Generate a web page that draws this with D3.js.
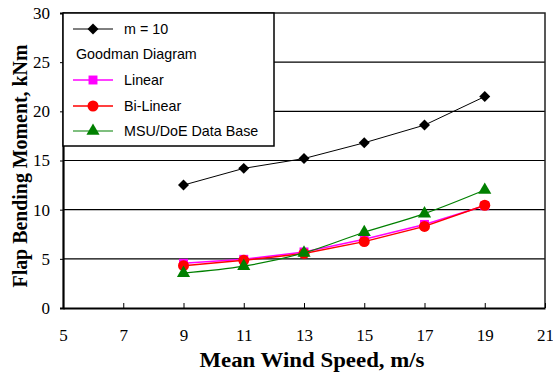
<!DOCTYPE html>
<html>
<head>
<meta charset="utf-8">
<script src="https://cdn.jsdelivr.net/npm/d3@7"></script>
<style>
  body { margin: 0; background: #fff; }
  svg { display: block; }
</style>
</head>
<body>
<div id="chart"></div>
<script>
// wind speeds, m/s
const windSpeeds = [9, 11, 13, 15, 17, 19];

// flap bending moment, kNm
const m10 = [12.5, 14.2, 15.2, 16.8, 18.6, 21.5];
const linear = [4.55, 4.95, 5.7, 7.0, 8.5, 10.4];
const biLinear = [4.3, 4.85, 5.55, 6.75, 8.3, 10.45];
const msuDoe = [3.55, 4.25, 5.6, 7.7, 9.6, 12.0];

const xTicks = [5, 7, 9, 11, 13, 15, 17, 19, 21];
const yTicks = [0, 5, 10, 15, 20, 25, 30];

const width = 553, height = 374;
const margin = { top: 13, right: 8, bottom: 66, left: 63 };
const serif = '"Liberation Serif", "Times New Roman", serif';

const svg = d3.select('#chart').append('svg')
    .attr('width', width)
    .attr('height', height);

const x = d3.scaleLinear().domain([5, 21]).range([margin.left, width - margin.right]);
const y = d3.scaleLinear().domain([0, 30]).range([height - margin.bottom, margin.top]);

// grid lines
svg.append('g')
    .selectAll('line')
    .data(yTicks.filter(t => t > 0 && t < 30))
    .enter().append('line')
    .attr('x1', x(5)).attr('x2', x(21))
    .attr('y1', d => y(d)).attr('y2', d => y(d))
    .attr('stroke', '#000')
    .attr('stroke-width', 1.2);

// frame: top and right
svg.append('path')
    .attr('d', `M${x(5)},${y(30)}H${x(21)}V${y(0)}`)
    .attr('fill', 'none')
    .attr('stroke', '#222')
    .attr('stroke-width', 1.5);

// y axis
const yAxis = svg.append('g')
    .attr('transform', `translate(${x(5)},0)`)
    .call(d3.axisLeft(y).tickValues(yTicks).tickSize(3).tickPadding(10));
yAxis.select('.domain').attr('stroke-width', 2.2);
yAxis.selectAll('text')
    .attr('font-family', serif)
    .attr('font-size', 17)
    .attr('fill', '#000');

// x axis, ticks point inside
const xAxis = svg.append('g')
    .attr('transform', `translate(0,${y(0)})`)
    .call(d3.axisBottom(x).tickValues(xTicks).tickSizeInner(-5).tickSizeOuter(0).tickPadding(21));
xAxis.select('.domain').attr('stroke-width', 2.2);
xAxis.selectAll('text')
    .attr('font-family', serif)
    .attr('font-size', 17)
    .attr('fill', '#000');

// axis titles
svg.append('text')
    .attr('x', 312).attr('y', 367)
    .attr('text-anchor', 'middle')
    .attr('font-family', serif)
    .attr('font-weight', 'bold')
    .attr('font-size', 22)
    .attr('textLength', 225)
    .attr('lengthAdjust', 'spacingAndGlyphs')
    .text('Mean Wind Speed, m/s');

svg.append('text')
    .attr('transform', 'translate(27,166) rotate(-90)')
    .attr('text-anchor', 'middle')
    .attr('font-family', serif)
    .attr('font-weight', 'bold')
    .attr('font-size', 22)
    .attr('textLength', 243)
    .attr('lengthAdjust', 'spacingAndGlyphs')
    .text('Flap Bending Moment, kNm');

const series = [
    { name: 'm = 10', values: m10, color: '#000', marker: 'diamond', curve: d3.curveLinear, width: 1 },
    { name: 'Linear', values: linear, color: '#ff00ff', marker: 'square', curve: d3.curveLinear, width: 1.5 },
    { name: 'Bi-Linear', values: biLinear, color: '#ff0000', marker: 'circle', curve: d3.curveLinear, width: 1.5 },
    { name: 'MSU/DoE Data Base', values: msuDoe, color: '#008000', marker: 'triangle', curve: d3.curveCatmullRom, width: 1.2 }
];

const symbolOf = {
    diamond: d3.symbol().type(d3.symbolSquare).size(60),
    square: d3.symbol().type(d3.symbolSquare).size(80),
    circle: d3.symbol().type(d3.symbolCircle).size(95),
    triangle: d3.symbol().type(d3.symbolTriangle).size(75)
};
// diamond is a square turned 45 degrees
const rot = m => (m === 'diamond' ? ' rotate(45)' : '');

series.forEach(s => {
    const pts = windSpeeds.map((w, i) => [w, s.values[i]]);
    svg.append('path')
        .datum(pts)
        .attr('fill', 'none')
        .attr('stroke', s.color)
        .attr('stroke-width', s.width)
        .attr('d', d3.line().x(d => x(d[0])).y(d => y(d[1])).curve(s.curve));
    svg.append('g')
        .selectAll('path')
        .data(pts)
        .enter().append('path')
        .attr('transform', d => `translate(${x(d[0])},${y(d[1])})` + rot(s.marker))
        .attr('d', symbolOf[s.marker])
        .attr('fill', s.color);
});

// legend
const legend = svg.append('g');
legend.append('rect')
    .attr('x', x(5)).attr('y', y(30))
    .attr('width', 211).attr('height', 133)
    .attr('fill', '#fff')
    .attr('stroke', '#000')
    .attr('stroke-width', 1.5);

const legendRows = [
    { s: series[0], y: 29 },
    { label: 'Goodman Diagram', y: 54 },
    { s: series[1], y: 80 },
    { s: series[2], y: 106 },
    { s: series[3], y: 131 }
];

legendRows.forEach(r => {
    if (r.s) {
        legend.append('line')
            .attr('x1', 73).attr('x2', 113)
            .attr('y1', r.y).attr('y2', r.y)
            .attr('stroke', r.s.color)
            .attr('stroke-width', r.s.width);
        legend.append('path')
            .attr('transform', `translate(93,${r.y})` + rot(r.s.marker))
            .attr('d', symbolOf[r.s.marker])
            .attr('fill', r.s.color);
    }
    legend.append('text')
        .attr('x', r.s ? 124 : 76)
        .attr('y', r.y + 5)
        .attr('font-family', '"Liberation Sans", Arial, sans-serif')
        .attr('font-size', 14.3)
        .text(r.s ? r.s.name : r.label);
});
</script>
</body>
</html>
